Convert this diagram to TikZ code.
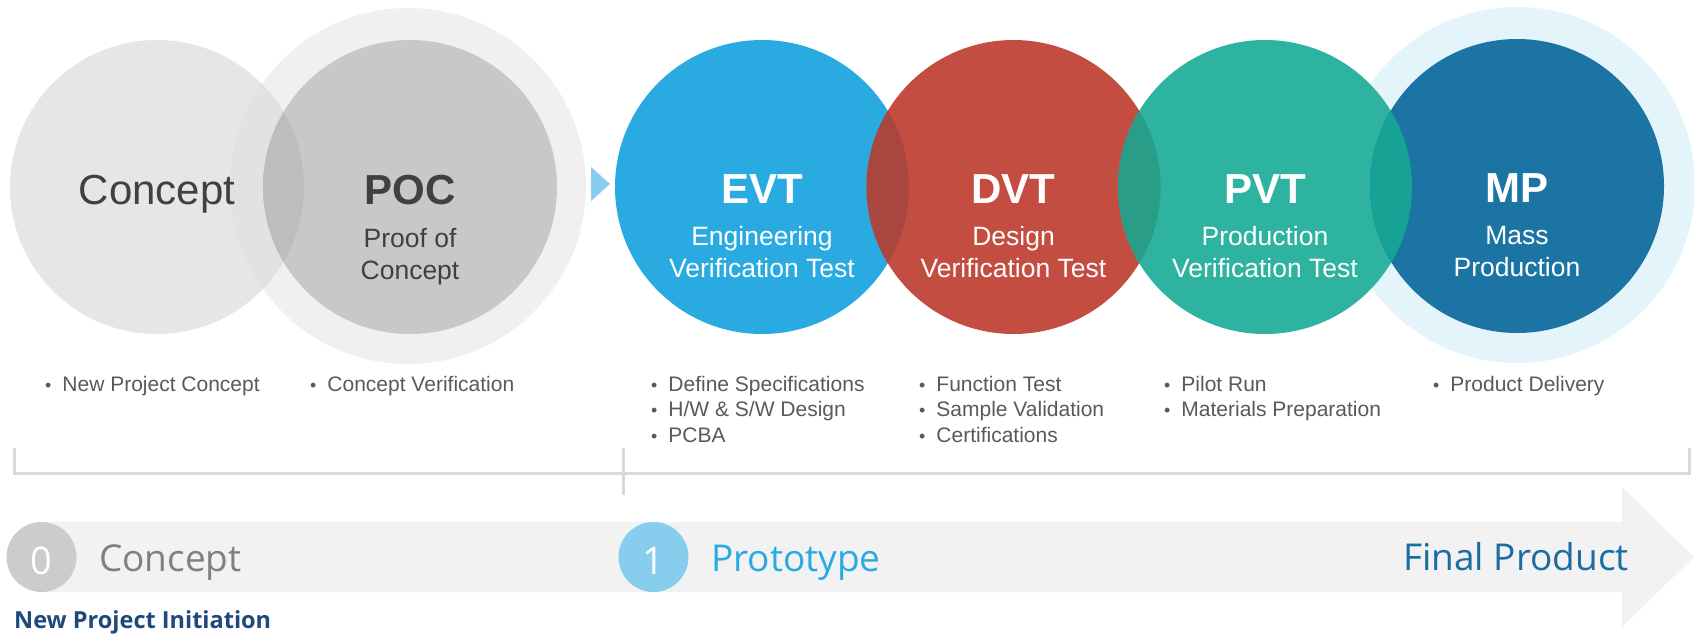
\documentclass[tikz,border=0pt]{standalone}
\usepackage{fontspec}
\setmainfont{Liberation Sans}
\newfontfamily\osans{Open Sans}
\definecolor{cgrey}{HTML}{E6E6E6}
\definecolor{pring}{HTML}{F0F0F0}
\definecolor{pgrey}{HTML}{C8C8C8}
\definecolor{plens}{HTML}{BDBDBD}
\definecolor{rlens}{HTML}{E2E2E2}
\definecolor{evtc}{HTML}{29ABE2}
\definecolor{dvtc}{HTML}{C44D42}
\definecolor{edlens}{HTML}{A9463F}
\definecolor{pvtc}{HTML}{2DB39F}
\definecolor{dplens}{HTML}{2A9D89}
\definecolor{mpc}{HTML}{1B74A3}
\definecolor{pmlens}{HTML}{16A396}
\definecolor{mring}{HTML}{E3F4FB}
\definecolor{ltblue}{HTML}{87CEEE}
\definecolor{bullc}{HTML}{595959}
\definecolor{darkt}{HTML}{404040}
\definecolor{brk}{HTML}{D9D9D9}
\definecolor{band}{HTML}{F2F2F2}
\definecolor{zeroc}{HTML}{CCCCCC}
\definecolor{finalc}{HTML}{1A6CA3}
\definecolor{initc}{HTML}{1F497D}
\newcommand{\bu}{\scalebox{0.85}{•}\hspace{11pt}}
\begin{document}
\begin{tikzpicture}[x=1pt,y=-1pt,
  disc/.style={circle,inner sep=0pt,minimum size=294pt},
  ring/.style={circle,inner sep=0pt,minimum size=356pt},
  title/.style={anchor=base,inner sep=0pt,font=\fontsize{42}{50}\selectfont\bfseries},
  sub/.style={anchor=base,inner sep=0pt,font=\fontsize{26.5}{32}\selectfont},
  bul/.style={anchor=base west,inner sep=0pt,text=bullc,font=\fontsize{21}{26}\selectfont},
  bracket/.style={draw=brk,line width=3pt},
  stagelbl/.style={anchor=base west,inner sep=0pt,font=\osans\fontsize{37}{44}\selectfont},
  numdisc/.style={circle,inner sep=0pt,minimum size=70pt},
  numlbl/.style={anchor=base,inner sep=0pt,text=white,font=\osans\fontsize{38}{44}\selectfont}]
\useasboundingbox (0,0) rectangle (1694,635);
% ---- POC / Concept group ----
\node[ring,fill=pring] (pocring) at (408,186) {};
\node[disc,fill=cgrey] (concept) at (157,187) {};
\begin{scope}
  \clip (concept.center) circle (147pt);
  \fill[rlens] (pocring.center) circle (178pt);
\end{scope}
\node[disc,fill=pgrey] (poc) at (410,187) {};
\begin{scope}
  \clip (concept.center) circle (147pt);
  \fill[plens] (poc.center) circle (147pt);
\end{scope}
% ---- Small triangle ----
\fill[ltblue] (591,167) -- (610,184) -- (591,201) -- cycle;
% ---- Colored circles ----
\node[ring,fill=mring] (mpring) at (1517,185) {};
\node[disc,fill=evtc] (evt) at (762,187) {};
\node[disc,fill=dvtc] (dvt) at (1013.5,187) {};
\begin{scope}
  \clip (evt.center) circle (147pt);
  \fill[edlens] (dvt.center) circle (147pt);
\end{scope}
\node[disc,fill=pvtc] (pvt) at (1265,187) {};
\begin{scope}
  \clip (dvt.center) circle (147pt);
  \fill[dplens] (pvt.center) circle (147pt);
\end{scope}
\node[disc,fill=mpc] (mp) at (1517,186) {};
\begin{scope}
  \clip (pvt.center) circle (147pt);
  \fill[pmlens] (mp.center) circle (147pt);
\end{scope}
% ---- Circle texts ----
\node[anchor=base,inner sep=0pt,text=darkt,font=\fontsize{42}{50}\selectfont] (tconcept) at (157,204) {Concept};
\node[title,text=darkt] (tpoc) at (410,204) {POC};
\node[sub,text=darkt] (tpoc1) at (410,247) {Proof of};
\node[sub,text=darkt] (tpoc2) at (410,279) {Concept};
\node[title,text=white] (tevt) at (762,203) {EVT};
\node[sub,text=white] (tevt1) at (762,245) {Engineering};
\node[sub,text=white] (tevt2) at (762,277) {Verification Test};
\node[title,text=white] (tdvt) at (1013.5,203) {DVT};
\node[sub,text=white] (tdvt1) at (1013.5,245) {Design};
\node[sub,text=white] (tdvt2) at (1013.5,277) {Verification Test};
\node[title,text=white] (tpvt) at (1265,203) {PVT};
\node[sub,text=white] (tpvt1) at (1265,245) {Production};
\node[sub,text=white] (tpvt2) at (1265,277) {Verification Test};
\node[title,text=white] (tmp) at (1517,202) {MP};
\node[sub,text=white] (tmp1) at (1517,244) {Mass};
\node[sub,text=white] (tmp2) at (1517,276) {Production};
% ---- Bullets ----
\node[bul] (b1) at (45,391) {\bu New Project Concept};
\node[bul] (b2) at (310,391) {\bu Concept Verification};
\node[bul] (b3) at (651,391) {\bu Define Specifications};
\node[bul] (b4) at (651,416.5) {\bu H/W \& S/W Design};
\node[bul] (b5) at (651,442) {\bu PCBA};
\node[bul] (b6) at (919,391) {\bu Function Test};
\node[bul] (b7) at (919,416.5) {\bu Sample Validation};
\node[bul] (b8) at (919,442) {\bu Certifications};
\node[bul] (b9) at (1164,391) {\bu Pilot Run};
\node[bul] (b10) at (1164,416.5) {\bu Materials Preparation};
\node[bul] (b11) at (1433,391) {\bu Product Delivery};
% ---- Bracket ----
\draw[bracket] (14,448) -- (14,473) -- (1689,473) -- (1689,448);
\draw[bracket] (623,448) -- (623,495);
% ---- Big arrow ----
\fill[band] (41,522) -- (1622,522) -- (1622,487) -- (1694,557) -- (1622,627) -- (1622,592) -- (41,592) -- cycle;
\node[numdisc,fill=zeroc] (n0) at (41.5,557) {};
\node[numlbl] (n0t) at (41.5,574) {0};
\node[numdisc,fill=ltblue] (n1) at (653.5,557) {};
\node[numlbl] (n1t) at (653.5,574) {1};
\node[stagelbl,text=gray] (sconcept) at (99,571) {Concept};
\node[stagelbl,text=evtc] (sproto) at (711,571) {Prototype};
\node[anchor=base east,inner sep=0pt,text=finalc,font=\osans\fontsize{37}{44}\selectfont] (sfinal) at (1629,570) {Final Product};
\node[anchor=base west,inner sep=0pt,text=initc,font=\osans\bfseries\fontsize{23.5}{28}\selectfont] (sinit) at (14,628) {New Project Initiation};
\end{tikzpicture}
\end{document}
